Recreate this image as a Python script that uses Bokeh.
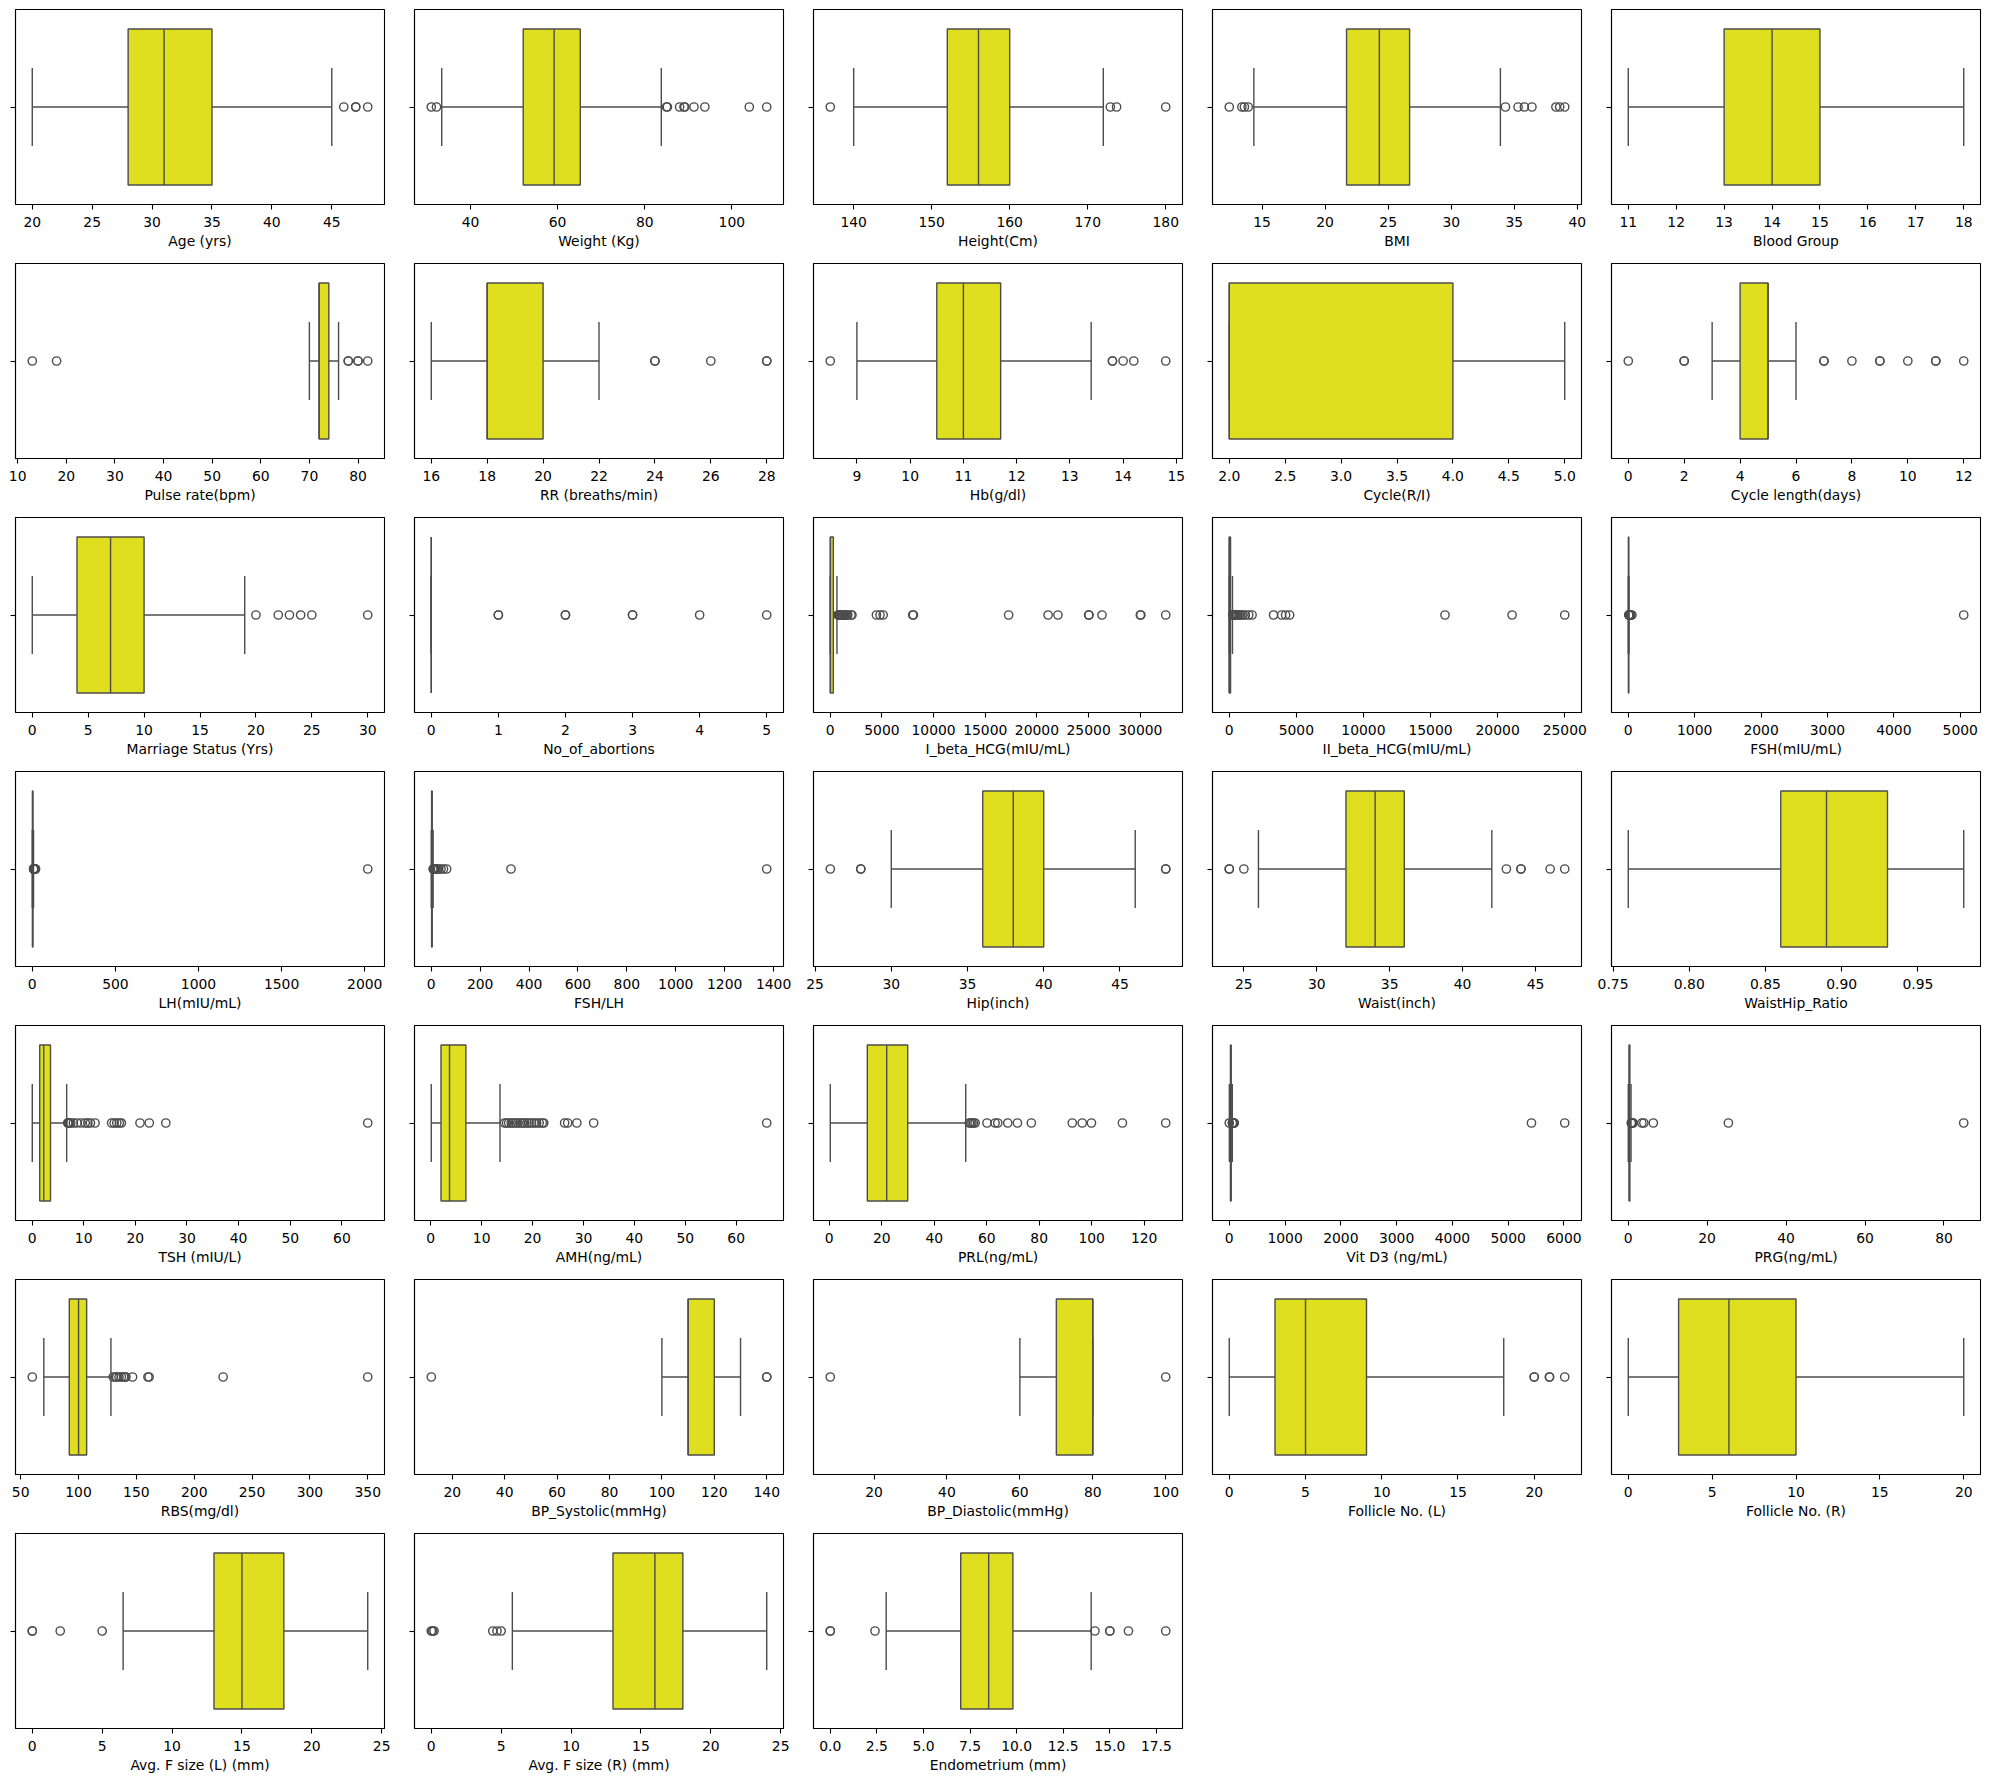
from bokeh.plotting import figure
from bokeh.layouts import gridplot
from bokeh.models import FixedTicker, Range1d
from bokeh.embed import file_html
from bokeh.resources import INLINE

# ---------------- data ----------------
labels = [
    "Age (yrs)", "Weight (Kg)", "Height(Cm)", "BMI", "Blood Group",
    "Pulse rate(bpm)", "RR (breaths/min)", "Hb(g/dl)", "Cycle(R/I)", "Cycle length(days)",
    "Marriage Status (Yrs)", "No_of_abortions", "I_beta_HCG(mIU/mL)", "II_beta_HCG(mIU/mL)", "FSH(mIU/mL)",
    "LH(mIU/mL)", "FSH/LH", "Hip(inch)", "Waist(inch)", "WaistHip_Ratio",
    "TSH (mIU/L)", "AMH(ng/mL)", "PRL(ng/mL)", "Vit D3 (ng/mL)", "PRG(ng/mL)",
    "RBS(mg/dl)", "BP_Systolic(mmHg)", "BP_Diastolic(mmHg)", "Follicle No. (L)", "Follicle No. (R)",
    "Avg. F size (L) (mm)", "Avg. F size (R) (mm)", "Endometrium (mm)",
]

whisker_lo = [20, 33.4, 140, 14.35, 11,
              70, 16, 9.0, 2, 3,
              0, 0, 1.99, 1.99, 0.21,
              0.02, 0.1, 30, 26, 0.76,
              0.04, 0.1, 0.4, 1.3, 0.05,
              70, 100, 60, 0, 0,
              6.5, 5.8, 3.0]
q1 = [28, 52.1, 152, 21.7, 13,
      72, 18, 10.5, 2, 4,
      4, 0, 1.99, 1.99, 3.3,
      1.02, 1.42, 36, 32, 0.86,
      1.48, 2.01, 14.5, 20.8, 0.25,
      92, 110, 70, 3, 3,
      13, 13, 7.0]
median = [31, 59.2, 156, 24.3, 14,
          72, 18, 11.0, 2, 5,
          7, 0, 20, 1.99, 4.85,
          2.3, 2.17, 38, 34, 0.89,
          2.26, 3.68, 21.9, 25.9, 0.32,
          100, 110, 80, 5, 6,
          15, 16, 8.5]
q3 = [35, 65.2, 160, 26.7, 15,
      74, 20, 11.7, 4, 5,
      10, 0, 297, 97, 6.41,
      3.68, 3.96, 40, 36, 0.93,
      3.57, 6.9, 29.9, 34.5, 0.45,
      107, 120, 80, 9, 10,
      18, 18, 9.8]
whisker_hi = [45, 83.8, 172, 33.9, 18,
              76, 22, 13.4, 5, 6,
              19, 0, 650, 240, 11,
              7.6, 7.7, 46, 42, 0.98,
              6.7, 13.6, 52, 54.2, 0.75,
              128, 130, 80, 18, 20,
              24, 24, 14.0]

outliers = [
    [46, 47, 47, 48],
    [31, 32.2, 85, 85.2, 88, 89, 89.2, 91.3, 93.8, 104, 108],
    [137, 172.9, 173.7, 180],
    [12.4, 13.4, 13.6, 13.9, 34.3, 35.3, 35.8, 36.4, 38.3, 38.6, 39.0],
    [],
    [13, 18, 78, 78, 80, 80, 82],
    [24, 24, 26, 28, 28],
    [8.5, 13.8, 13.8, 14.0, 14.2, 14.8],
    [],
    [0, 2, 2, 7, 7, 8, 9, 9, 10, 11, 11, 12],
    [20, 22, 23, 24, 25, 30],
    [1, 1, 2, 2, 3, 3, 4, 5],
    [750, 800, 850, 900, 1000, 1100, 1200, 1300, 1400, 1500, 1600, 1700, 2000, 2100,
     4466, 4817, 5118, 7978, 8050, 17260, 21074, 22027, 25000, 25038, 26292, 30000, 30055, 32460],
    [260, 300, 350, 400, 480, 560, 650, 750, 850, 1000, 1200, 1450, 1700,
     3300, 3900, 4200, 4500, 16077, 21077, 25000],
    [11.5, 12, 13, 14, 15, 17, 20, 25, 30, 40, 55, 5052],
    [8, 8.5, 9, 10, 11, 12, 13, 15, 18, 20, 2018],
    [8, 9, 10, 12, 14, 16, 20, 25, 30, 40, 50, 63, 326, 1372],
    [26, 28, 28, 48, 48],
    [24, 24, 25, 43, 44, 44, 46, 47],
    [],
    [6.9, 7.0, 7.1, 7.2, 7.5, 8.0, 8.7, 9.5, 10.3, 10.8, 11.3, 12.2,
     15.4, 15.9, 16.4, 16.9, 17.3, 20.9, 22.7, 25.9, 65.0],
    [14.5, 14.9, 15.3, 15.8, 16.2, 16.7, 17.1, 17.6, 18.0, 18.4, 18.9, 19.3, 19.8,
     20.3, 20.8, 21.3, 21.9, 22.2, 26.3, 26.9, 28.7, 32.0, 66.0],
    [53.4, 53.9, 54.4, 55.0, 55.6, 60.1, 63.2, 64.2, 68.0, 71.7, 77.0,
     92.6, 96.4, 99.9, 111.7, 128.2],
    [0, 56, 60, 65, 70, 75, 80, 90, 5418, 6014],
    [0.8, 0.9, 1.0, 1.1, 1.3, 3.5, 4.0, 6.4, 25.4, 85.0],
    [60, 130, 132, 133, 135, 137, 139, 140, 141, 146.7, 160, 161, 225, 350],
    [12, 140, 140],
    [8, 100],
    [20, 20, 21, 21, 22],
    [],
    [0, 0, 2, 5],
    [0, 0.1, 0.2, 4.4, 4.7, 5.0],
    [0, 0, 2.4, 14.2, 15, 15, 16, 18],
]

tick_labels = [
    ["20", "25", "30", "35", "40", "45"],
    ["40", "60", "80", "100"],
    ["140", "150", "160", "170", "180"],
    ["15", "20", "25", "30", "35", "40"],
    ["11", "12", "13", "14", "15", "16", "17", "18"],
    ["10", "20", "30", "40", "50", "60", "70", "80"],
    ["16", "18", "20", "22", "24", "26", "28"],
    ["9", "10", "11", "12", "13", "14", "15"],
    ["2.0", "2.5", "3.0", "3.5", "4.0", "4.5", "5.0"],
    ["0", "2", "4", "6", "8", "10", "12"],
    ["0", "5", "10", "15", "20", "25", "30"],
    ["0", "1", "2", "3", "4", "5"],
    ["0", "5000", "10000", "15000", "20000", "25000", "30000"],
    ["0", "5000", "10000", "15000", "20000", "25000"],
    ["0", "1000", "2000", "3000", "4000", "5000"],
    ["0", "500", "1000", "1500", "2000"],
    ["0", "200", "400", "600", "800", "1000", "1200", "1400"],
    ["25", "30", "35", "40", "45"],
    ["25", "30", "35", "40", "45"],
    ["0.75", "0.80", "0.85", "0.90", "0.95"],
    ["0", "10", "20", "30", "40", "50", "60"],
    ["0", "10", "20", "30", "40", "50", "60"],
    ["0", "20", "40", "60", "80", "100", "120"],
    ["0", "1000", "2000", "3000", "4000", "5000", "6000"],
    ["0", "20", "40", "60", "80"],
    ["50", "100", "150", "200", "250", "300", "350"],
    ["20", "40", "60", "80", "100", "120", "140"],
    ["20", "40", "60", "80", "100"],
    ["0", "5", "10", "15", "20"],
    ["0", "5", "10", "15", "20"],
    ["0", "5", "10", "15", "20", "25"],
    ["0", "5", "10", "15", "20", "25"],
    ["0.0", "2.5", "5.0", "7.5", "10.0", "12.5", "15.0", "17.5"],
]

# ---------------- style ----------------
FILL = "#dfdf20"
LINE = "#4c4c4c"
LW = 1.4
BOX_W = 0.8
CAP_W = 0.4
FONT = "DejaVu Sans"
FSIZE = "13.9px"
NCOLS = 5

figs = []
for i, name in enumerate(labels):
    col = i % NCOLS
    vals = [whisker_lo[i], whisker_hi[i], q1[i], q3[i]] + outliers[i]
    lo, hi = min(vals), max(vals)
    pad = 0.05 * (hi - lo) if hi > lo else 0.5
    p = figure(
        width=399 if col < NCOLS - 1 else 393, height=254,
        x_range=Range1d(lo - pad, hi + pad), y_range=Range1d(0.5, -0.5),
        output_backend="svg", toolbar_location=None,
        min_border_left=15, min_border_right=15 if col < NCOLS - 1 else 9,
        min_border_top=9, min_border_bottom=50,
        background_fill_color="white", border_fill_color="white",
    )
    p.grid.visible = False
    p.outline_line_color = "black"
    p.outline_line_width = 1.1

    # whiskers
    p.segment(x0=[whisker_lo[i], q3[i]], x1=[q1[i], whisker_hi[i]], y0=[0, 0], y1=[0, 0],
              line_color=LINE, line_width=LW)
    # caps
    p.segment(x0=[whisker_lo[i], whisker_hi[i]], x1=[whisker_lo[i], whisker_hi[i]],
              y0=[-CAP_W / 2] * 2, y1=[CAP_W / 2] * 2, line_color=LINE, line_width=LW)
    # box
    p.hbar(y=[0], height=BOX_W, left=[q1[i]], right=[q3[i]],
           fill_color=FILL, line_color=LINE, line_width=LW)
    # median
    p.segment(x0=[median[i]], x1=[median[i]], y0=[-BOX_W / 2], y1=[BOX_W / 2],
              line_color=LINE, line_width=LW)
    # fliers
    if outliers[i]:
        p.scatter(x=outliers[i], y=[0] * len(outliers[i]), marker="circle", size=8.3,
                  fill_alpha=0, line_color=LINE, line_width=LW)

    ticks = [float(t) for t in tick_labels[i]]
    xa = p.xaxis[0]
    xa.ticker = FixedTicker(ticks=ticks, minor_ticks=[])
    xa.major_label_overrides = {t: s for t, s in zip(ticks, tick_labels[i])}
    xa.axis_label = name
    xa.axis_label_text_font = FONT
    xa.axis_label_text_font_size = FSIZE
    xa.axis_label_text_font_style = "normal"
    xa.axis_label_text_color = "black"
    xa.axis_label_standoff = 3
    xa.major_label_text_font = FONT
    xa.major_label_text_font_size = FSIZE
    xa.major_label_text_color = "black"
    xa.major_label_standoff = 7
    xa.major_tick_out = 5
    xa.major_tick_in = 0
    xa.minor_tick_line_color = None
    xa.axis_line_color = "black"
    xa.axis_line_width = 1.1
    xa.major_tick_line_color = "black"
    xa.major_tick_line_width = 1.1

    ya = p.yaxis[0]
    ya.ticker = FixedTicker(ticks=[0], minor_ticks=[])
    ya.major_label_overrides = {0: ""}
    ya.major_label_standoff = 0
    ya.major_label_text_font_size = "1px"
    ya.major_tick_out = 5
    ya.major_tick_in = 0
    ya.minor_tick_line_color = None
    ya.axis_line_color = "black"
    ya.axis_line_width = 1.1
    ya.major_tick_line_color = "black"
    ya.major_tick_line_width = 1.1
    figs.append(p)

rows = []
for r in range(0, len(figs), NCOLS):
    row = figs[r:r + NCOLS]
    row = row + [None] * (NCOLS - len(row))
    rows.append(row)

grid = gridplot(rows, toolbar_location=None)

open("out.html", "w").write(file_html(grid, INLINE))
